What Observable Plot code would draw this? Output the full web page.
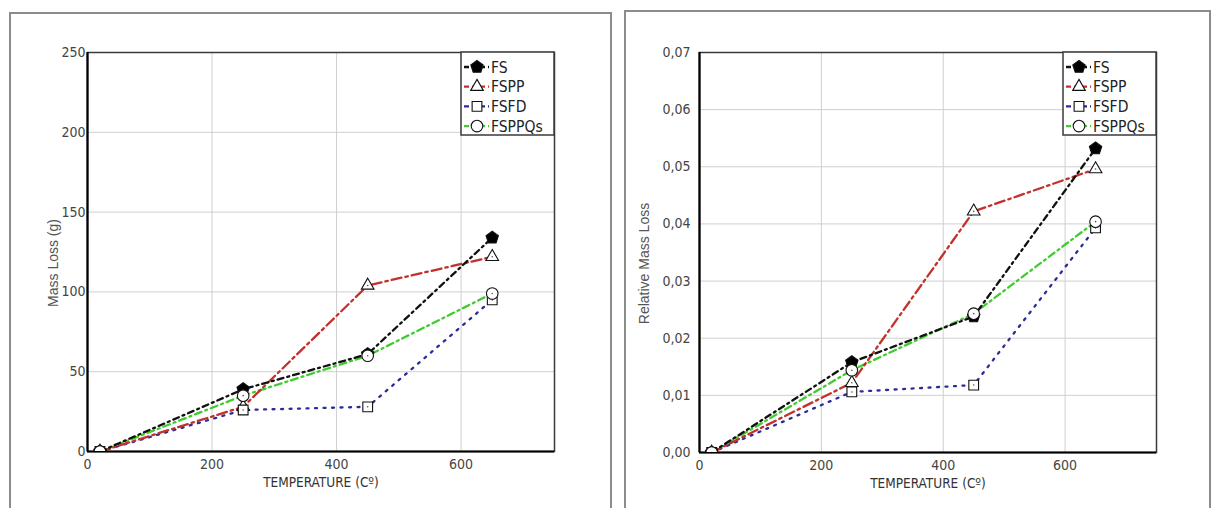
<!DOCTYPE html>
<html><head><meta charset="utf-8">
<script src="https://cdn.jsdelivr.net/npm/d3@7"></script>
<script src="https://cdn.jsdelivr.net/npm/@observablehq/plot@0.6"></script>
<style>
html,body{margin:0;padding:0;background:#fff;}
#wrap{position:relative;width:1212px;height:508px;overflow:hidden;background:#fff;}
.panel{position:absolute;box-sizing:border-box;border:2px solid #8c8c8c;}
.chart{position:absolute;top:0;}
.legend{position:absolute;overflow:visible;}
</style></head><body><div id="wrap"></div>
<script>
// ---- data ----
const temperatures = [20, 250, 450, 650];
const seriesNames = ["FS", "FSPP", "FSFD", "FSPPQs"];
const massLossFS = [0, 39, 61, 134];
const massLossFSPP = [0, 28, 104, 122];
const massLossFSFD = [0, 26, 28, 95];
const massLossFSPPQs = [0, 35, 60, 99];
const relLossFS = [0, 0.0158, 0.0238, 0.0532];
const relLossFSPP = [0, 0.0122, 0.0422, 0.0496];
const relLossFSFD = [0, 0.0106, 0.0118, 0.0393];
const relLossFSPPQs = [0, 0.0144, 0.0243, 0.0404];
const xTicks = [0, 200, 400, 600];
const massTicks = [0, 50, 100, 150, 200, 250];
const relTicks = [0, 0.01, 0.02, 0.03, 0.04, 0.05, 0.06, 0.07];
const xTitle = "TEMPERATURE (Cº)";
const massTitle = "Mass Loss (g)";
const relTitle = "Relative Mass Loss";

// ---- styles ----
const pentagon = {
  draw(ctx, size) {
    const R = Math.sqrt(size / Math.PI);
    for (let i = 0; i < 5; i++) {
      const a = -Math.PI / 2 + i * 2 * Math.PI / 5;
      const px = R * Math.cos(a), py = R * Math.sin(a);
      if (i === 0) ctx.moveTo(px, py); else ctx.lineTo(px, py);
    }
    ctx.closePath();
  }
};
const styles = {
  FS:     {color: "#111111", dash: "6,4,2,4",   symbol: pentagon, r: 6.5, fill: "#000", open: false},
  FSPP:   {color: "#c4302b", dash: "10,4,2.5,4", symbol: d3.symbolTriangle, r: 4.7, fill: "#fff", open: true},
  FSFD:   {color: "#2c2c96", dash: "2,6.5",     symbol: d3.symbolSquare, r: 5.5, fill: "#fff", open: true},
  FSPPQs: {color: "#3fcc2e", dash: "7,4,2,4",   symbol: d3.symbolCircle, r: 5.8, fill: "#fff", open: true}
};
const condensed = "'DejaVu Sans Condensed', 'DejaVu Sans', sans-serif";
const sans = "'Liberation Sans', Arial, sans-serif";

const wrap = document.getElementById("wrap");

function addPanel(l, t, w, h) {
  const d = document.createElement("div");
  d.className = "panel";
  Object.assign(d.style, {left: l + "px", top: t + "px", width: w + "px", height: h + "px"});
  wrap.appendChild(d);
}

function makeChart(cfg) {
  const rows = [];
  seriesNames.forEach((s, i) => {
    cfg.values[i].forEach((v, j) => rows.push({series: s, t: temperatures[j], v}));
  });
  const marks = [
    Plot.gridX(xTicks.filter(d => d > 0), {stroke: "#cfcfcf", strokeOpacity: 1, strokeWidth: 1}),
    Plot.gridY(cfg.yTicks.filter(d => d > 0), {stroke: "#cfcfcf", strokeOpacity: 1, strokeWidth: 1}),
    Plot.frame({stroke: "#3a3a3a", strokeWidth: 1.5})
  ];
  ["FSFD", "FSPPQs", "FSPP", "FS"].forEach(s => {
    const st = styles[s];
    marks.push(Plot.line(rows.filter(d => d.series === s), {
      x: "t", y: "v", stroke: st.color, strokeWidth: 2.3, strokeDasharray: st.dash, clip: "frame"
    }));
  });
  marks.push(Plot.ruleX([0], {stroke: "#000", strokeWidth: 2.2}));
  marks.push(Plot.ruleY([0], {stroke: "#000", strokeWidth: 2.2}));
  seriesNames.forEach(s => {
    const st = styles[s];
    const sub = rows.filter(d => d.series === s);
    marks.push(Plot.dot(sub, {x: "t", y: "v", symbol: st.symbol, r: st.r, fill: st.fill,
      stroke: "#111", strokeWidth: 1.1, clip: "frame"}));
    if (st.open) marks.push(Plot.dot(sub, {x: "t", y: "v", r: 0.8, fill: "#555", clip: "frame"}));
  });
  marks.push(Plot.axisX({ticks: xTicks, tickSize: 0, tickPadding: 8, fontSize: 14, fill: "#444",
    fontFamily: condensed, label: null}));
  marks.push(Plot.axisY({ticks: cfg.yTicks, tickFormat: cfg.yFormat, tickSize: 0, tickPadding: cfg.tickPad,
    fontSize: 14, fill: "#444", fontFamily: condensed, label: null}));
  marks.push(Plot.text([cfg.yTitle], {frameAnchor: "left", textAnchor: "middle", lineAnchor: "middle",
    rotate: -90, dx: cfg.titleDx, dy: 11, fontSize: 14, fill: "#555", fontFamily: sans}));
  marks.push(Plot.text([xTitle], {frameAnchor: "bottom", textAnchor: "middle", lineAnchor: "middle",
    dy: 31, fontSize: 13.5, fill: "#333", fontFamily: condensed}));

  const svg = Plot.plot({
    width: cfg.width, height: 508,
    marginLeft: cfg.mL, marginRight: cfg.mR, marginTop: cfg.mT, marginBottom: cfg.mB,
    x: {domain: [0, 750]},
    y: {domain: cfg.yDomain},
    style: {background: "transparent", fontFamily: condensed, overflow: "visible"},
    marks
  });
  svg.classList.add("chart");
  svg.style.left = cfg.left + "px";
  svg.style.position = "absolute";
  wrap.appendChild(svg);

  // legend box inside the plot area (top-right)
  const lw = 93, lh = 83;
  const lx = cfg.left + cfg.width - cfg.mR - lw;
  const ly = cfg.mT;
  const lg = d3.select(wrap).append("svg").attr("class", "legend")
    .attr("width", lw + 2).attr("height", lh + 2)
    .style("left", (lx - 1) + "px").style("top", (ly - 1) + "px");
  lg.append("rect").attr("x", 1).attr("y", 1).attr("width", lw).attr("height", lh)
    .attr("fill", "#fff").attr("stroke", "#3a3a3a").attr("stroke-width", 1.5);
  seriesNames.forEach((s, i) => {
    const st = styles[s];
    const yy = 16 + i * 19.7;
    lg.append("line").attr("x1", 4).attr("x2", 29).attr("y1", yy).attr("y2", yy)
      .attr("stroke", st.color).attr("stroke-width", 2.3).attr("stroke-dasharray", "5,3");
    lg.append("path").attr("transform", `translate(17,${yy})`)
      .attr("d", d3.symbol(st.symbol, st.r * st.r * Math.PI)())
      .attr("fill", st.fill).attr("stroke", "#111").attr("stroke-width", 1.1);
    lg.append("text").attr("x", 31).attr("y", yy).attr("dy", "0.36em")
      .attr("font-family", condensed).attr("font-size", 15.5).attr("fill", "#222").text(s);
  });
}

addPanel(9, 12, 603, 520);
addPanel(624, 10, 587, 520);

makeChart({
  values: [massLossFS, massLossFSPP, massLossFSFD, massLossFSPPQs],
  yDomain: [0, 250], yTicks: massTicks, yFormat: d => String(d), yTitle: massTitle,
  left: 0, width: 612, mL: 87, mR: 58, mT: 52, mB: 57, tickPad: 2, titleDx: -34
});
makeChart({
  values: [relLossFS, relLossFSPP, relLossFSFD, relLossFSPPQs],
  yDomain: [0, 0.07], yTicks: relTicks, yFormat: d => d3.format(".2f")(d).replace(".", ","), yTitle: relTitle,
  left: 612, width: 600, mL: 87, mR: 56, mT: 52, mB: 56, tickPad: 9, titleDx: -55
});
</script></body></html>
